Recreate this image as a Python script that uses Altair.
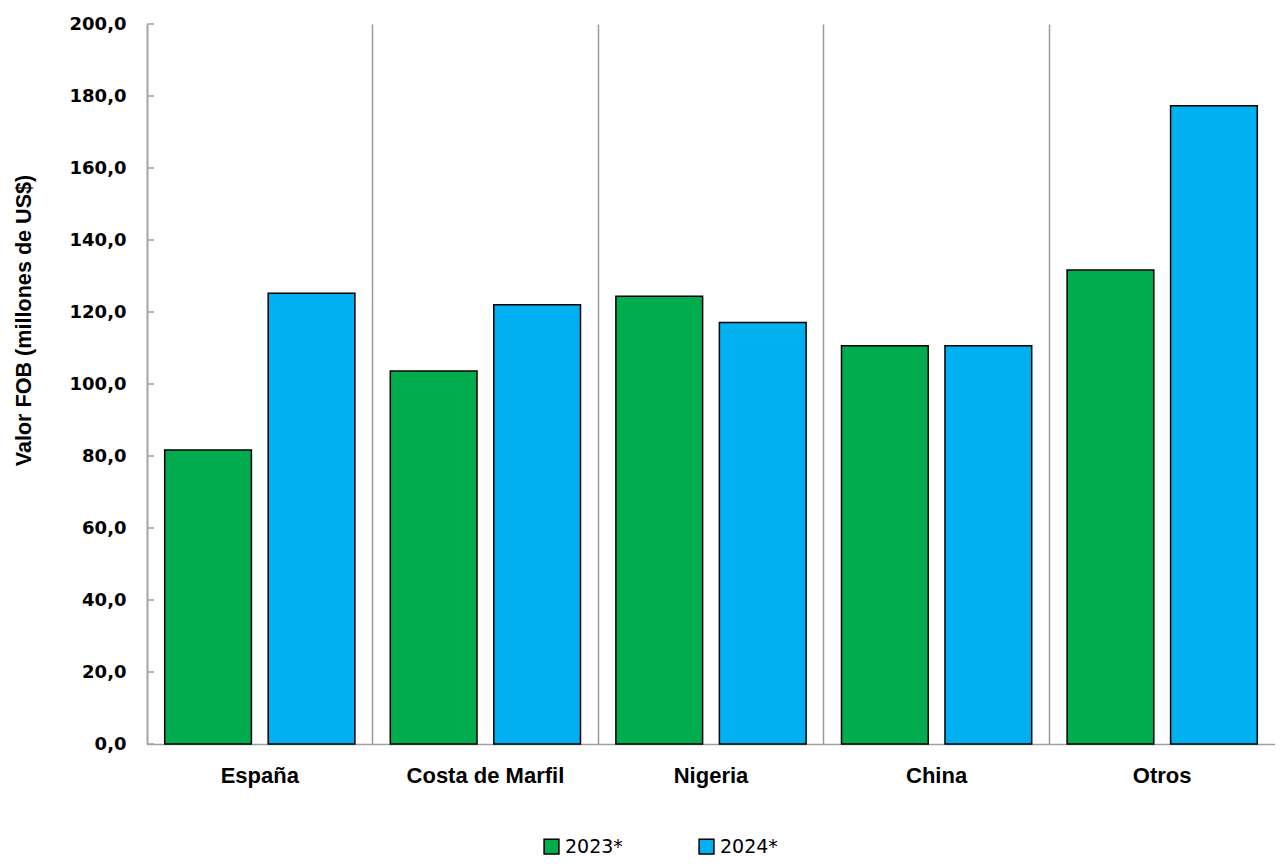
import altair as alt
import pandas as pd

categories = ["España", "Costa de Marfil", "Nigeria", "China", "Otros"]
series = ["2023*", "2024*"]
values_2023 = [81.7, 103.6, 124.4, 110.6, 131.7]
values_2024 = [125.2, 122.0, 117.1, 110.6, 177.3]
y_ticks = [0, 20, 40, 60, 80, 100, 120, 140, 160, 180, 200]
colors = ["#00AC4E", "#00B0F0"]

rows = []
for c, a, b in zip(categories, values_2023, values_2024):
    rows.append({"pais": c, "anio": series[0], "valor": a})
    rows.append({"pais": c, "anio": series[1], "valor": b})
df = pd.DataFrame(rows)
ticks_df = pd.DataFrame({"v": y_ticks})

GRAY = "#A0A0A0"

bars = alt.Chart(df).mark_bar(stroke="black", strokeWidth=1.5).encode(
    x=alt.X(
        "pais:N",
        sort=categories,
        scale=alt.Scale(paddingInner=0, paddingOuter=0),
        axis=alt.Axis(
            title=None,
            ticks=False,
            grid=True,
            bandPosition=0,
            gridColor="#9A9A9A",
            gridWidth=1.5,
            domainColor=GRAY,
            domainWidth=1.5,
            labelAngle=0,
            labelFont="Liberation Sans",
            labelFontWeight="bold",
            labelFontSize=22,
            labelColor="black",
            labelPadding=21,
        ),
    ),
    xOffset=alt.XOffset(
        "anio:N",
        sort=series,
        scale=alt.Scale(paddingInner=0.162, paddingOuter=0.171),
    ),
    y=alt.Y(
        "valor:Q",
        scale=alt.Scale(domain=[0, 200], nice=False),
        axis=alt.Axis(
            title="Valor FOB (millones de US$)",
            values=y_ticks,
            labelExpr="replace(format(datum.value, '.1f'), '.', ',')",
            ticks=False,
            grid=False,
            domainColor=GRAY,
            domainWidth=1.5,
            labelFont="DejaVu Sans",
            labelFontWeight="bold",
            labelFontSize=18,
            labelColor="black",
            labelPadding=21,
            titleFont="Liberation Sans",
            titleFontWeight="bold",
            titleFontSize=21.6,
            titleColor="black",
            titleX=-112,
            titleY=296,
            titleAlign="center",
            titleBaseline="bottom",
            titleAngle=270,
        ),
    ),
    color=alt.Color(
        "anio:N",
        sort=series,
        scale=alt.Scale(domain=series, range=colors),
        legend=alt.Legend(
            title=None,
            orient="none",
            direction="horizontal",
            legendX=395,
            legendY=813,
            symbolType="square",
            symbolSize=220,
            symbolStrokeColor="black",
            symbolStrokeWidth=1.5,
            labelFont="DejaVu Sans",
            labelFontSize=19,
            labelColor="black",
            labelOffset=4,
            columnPadding=73,
            padding=0,
        ),
    ),
)

tick_marks = alt.Chart(ticks_df).mark_rule(color=GRAY, strokeWidth=1.5).encode(
    y=alt.Y("v:Q", scale=alt.Scale(domain=[0, 200], nice=False)),
    x=alt.value(0),
    x2=alt.value(7),
)

chart = alt.layer(bars, tick_marks).properties(
    width=1128,
    height=720,
    autosize=alt.AutoSizeParams(type="none"),
    padding={"left": 139, "top": 16, "right": 0, "bottom": 112},
).configure_view(stroke=None)

chart.save("out.html", embed_options={"renderer": "svg", "actions": False})
